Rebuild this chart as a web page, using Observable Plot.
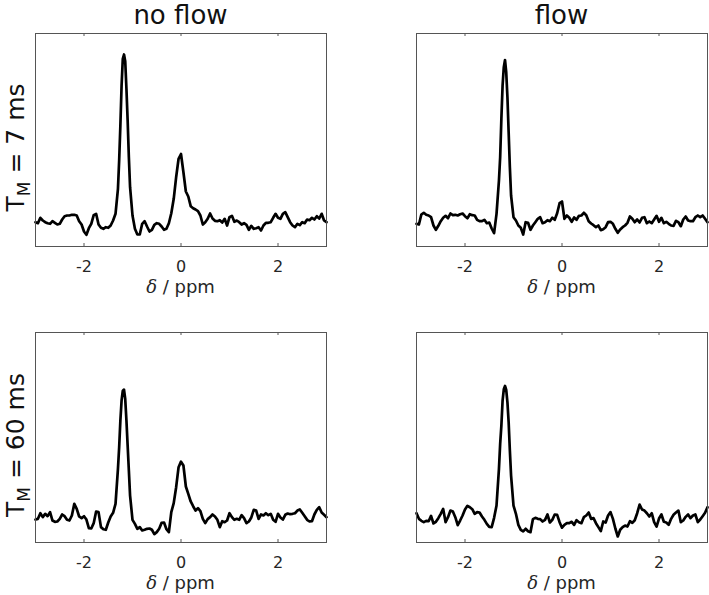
<!DOCTYPE html>
<html>
<head>
<meta charset="utf-8">
<script src="https://cdn.jsdelivr.net/npm/d3@7"></script>
<script src="https://cdn.jsdelivr.net/npm/@observablehq/plot@0.6"></script>
<style>
  body { margin: 0; background: #fff; }
  #chart { position: relative; width: 709px; height: 595px; font-family: "DejaVu Sans", sans-serif; }
  #chart svg { position: absolute; }
</style>
</head>
<body>
<div id="chart"></div>
<script>
// chemical shift axis (ppm), shared by all four spectra
const ppm = [
  -3, -2.95, -2.9, -2.85, -2.8, -2.75, -2.7, -2.65, -2.6, -2.55,
  -2.5, -2.45, -2.4, -2.35, -2.3, -2.25, -2.2, -2.15, -2.1, -2.05,
  -2, -1.95, -1.9, -1.85, -1.8, -1.75, -1.7, -1.65, -1.6, -1.55,
  -1.5, -1.45, -1.4, -1.35, -1.3, -1.275, -1.25, -1.225, -1.2, -1.175,
  -1.15, -1.125, -1.1, -1.075, -1.05, -1, -0.95, -0.9, -0.85, -0.8,
  -0.75, -0.7, -0.65, -0.6, -0.55, -0.5, -0.45, -0.4, -0.35, -0.3,
  -0.25, -0.2, -0.15, -0.1, -0.05, 0, 0.05, 0.1, 0.15, 0.2,
  0.25, 0.3, 0.35, 0.4, 0.45, 0.5, 0.55, 0.6, 0.65, 0.7,
  0.75, 0.8, 0.85, 0.9, 0.95, 1, 1.05, 1.1, 1.15, 1.2,
  1.25, 1.3, 1.35, 1.4, 1.45, 1.5, 1.55, 1.6, 1.65, 1.7,
  1.75, 1.8, 1.85, 1.9, 1.95, 2, 2.05, 2.1, 2.15, 2.2,
  2.25, 2.3, 2.35, 2.4, 2.45, 2.5, 2.55, 2.6, 2.65, 2.7,
  2.75, 2.8, 2.85, 2.9, 2.95, 3
];

// intensities (arbitrary units)
const noFlow7 = [
  0.003, -0.007, 0.047, 0.02, 0.003, -0.007, -0.013, 0.013, -0.003, -0.02,
  -0.013, 0.03, 0.063, 0.07, 0.07, 0.077, 0.077, 0.07, 0.013, -0.02,
  -0.09, -0.123, -0.057, -0.013, 0.073, 0.087, -0.02, -0.053, -0.063, -0.047,
  -0.053, -0.03, 0.02, 0.087,
  0.337, 0.62, 0.97, 1.37, 1.637, 1.68, 1.613, 1.337, 1.02, 0.653, 0.353,
  0.07, -0.063, -0.12, -0.12, -0.013, 0.013, -0.04, -0.09, -0.073, -0.023,
  -0.007, -0.013, -0.04, -0.073, -0.063, -0.007, 0.093, 0.237, 0.453, 0.637,
  0.685,
  0.503, 0.31, 0.26, 0.163, 0.143, 0.13, 0.113, 0.07, -0.02,
  0.003, 0.037, 0.09, 0.04, 0.017, 0.013, 0.023, 0, 0.037, -0.03,
  0.053, 0.067, 0.007, 0.02, 0.003, -0.02, -0.007, -0.023, -0.073, -0.033,
  -0.063, -0.057, -0.047, -0.08, -0.03, -0.003, -0.003, 0.003, 0.047, 0.087,
  0.047, 0.037, 0.087, 0.103, 0.053, 0.003, -0.03, -0.047, -0.013, -0.027,
  0.003, -0.007, 0.03, 0.023, 0.047, 0.03, 0.063, 0.04, 0.087, 0.02, 0.003
];

const flow7 = [
  -0.013, -0.02, 0.08, 0.097, 0.077, 0.07, 0.053, -0.03, -0.073, -0.033,
  0.013, 0.047, 0.067, 0.043, 0.09, 0.073, 0.077, 0.07, 0.083, 0.09,
  0.063, 0.043, 0.083, 0.073, 0.07, 0.027, 0.013, 0.013, 0.027, -0.007,
  0, -0.06, -0.107, 0.087,
  0.42, 0.653, 1.037, 1.37, 1.553, 1.625, 1.503, 1.253, 0.903, 0.553, 0.27,
  0.053, 0.02, -0.03, -0.053, -0.12, 0.003, -0.003, -0.073, -0.03, 0.003,
  0.037, 0.053, -0.007, 0.003, 0.023, 0.013, 0.047, 0.027, 0.093, 0.193,
  0.21,
  0.037, 0.07, 0.047, 0.007, 0.05, 0.027, 0.067, 0.07, 0.097,
  0.073, 0.013, -0.01, -0.027, -0.047, -0.03, -0.077, -0.067, -0.047, 0.003,
  0.007, -0.013, -0.063, -0.103, -0.07, -0.047, -0.03, -0.003, 0.06, 0.037,
  0.003, 0.03, 0, 0.047, 0.053, -0.007, 0.01, -0.007, 0.03, 0.067,
  0.007, 0.047, -0.007, 0.007, -0.013, -0.03, -0.033, 0.017, 0.003, -0.037,
  0.03, 0.06, 0.02, 0.013, 0.013, 0.053, 0.07, 0.053, 0.07, 0.037, 0.003
];

const noFlow60 = [
  -0.007, 0, 0.057, 0.017, 0.051, 0.027, 0.068, -0.017, -0.03, -0.027,
  0, 0.044, 0.027, -0.01, -0.017, 0.034, 0.152, 0.101, 0.024, 0.007,
  0.027, -0.007, -0.095, -0.098, -0.044, 0.074, 0.068, -0.084, -0.105, -0.111,
  -0.037, 0.024, 0.061, 0.152,
  0.507, 0.726, 0.997, 1.2, 1.3, 1.311, 1.216, 0.997, 0.743, 0.49, 0.236,
  -0.01, -0.051, -0.101, -0.084, -0.118, -0.111, -0.101, -0.098, -0.111, -0.155,
  -0.135, -0.101, -0.041, -0.037, -0.105, -0.135, 0.068, 0.159, 0.321, 0.524,
  0.58,
  0.541, 0.328, 0.253, 0.176, 0.128, 0.084, 0.108, 0.078, 0,
  -0.044, -0.003, 0.017, 0.044, 0.024, -0.01, -0.084, -0.024, -0.034, -0.017,
  0.057, 0.017, -0.01, 0, -0.01, 0.037, 0.007, -0.044, -0.027, 0.014,
  0.091, 0.084, 0, 0.044, 0.034, 0.057, 0.037, 0.051, -0.01, -0.03,
  0.051, 0.014, -0.007, 0.041, 0.054, 0.047, 0.051, 0.057, 0.084, 0.095,
  0.061, 0.027, -0.01, -0.027, -0.024, 0.044, 0.091, 0.118, 0.064, 0.041, 0.017
];

const flow60 = [
  0.057, 0, -0.02, -0.034, -0.02, -0.024, 0.03, -0.047, -0.03, 0.007,
  0.051, 0.101, -0.034, 0.017, 0.084, 0.074, 0.017, -0.064, -0.017, 0.034,
  0.095, 0.132, 0.118, 0.098, 0.051, 0.068, 0.064, 0.024, -0.01, -0.051,
  -0.081, -0.084, 0.01, 0.135,
  0.507, 0.76, 0.946, 1.2, 1.314, 1.348, 1.307, 1.182, 0.98, 0.693, 0.439,
  0.135, 0.051, -0.061, -0.111, -0.128, -0.101, -0.125, -0.135, -0.003, 0.01,
  0, -0.003, -0.027, -0.01, 0.044, -0.037, -0.01, 0.044, 0.041, -0.034,
  -0.09,
  -0.061, -0.044, -0.044, -0.03, -0.061, -0.014, -0.034, -0.044, 0.017,
  0.034, 0.064, 0, 0.007, -0.044, -0.084, -0.125, -0.027, -0.037, 0.034,
  0.068, 0, -0.098, -0.179, -0.111, -0.084, -0.068, -0.078, -0.024, -0.041,
  -0.014, 0.057, 0.145, 0.095, 0.084, 0.057, 0.024, 0.057, -0.034, -0.078,
  0.003, 0.044, -0.03, -0.037, -0.061, 0, 0.041, 0.064, 0.084, -0.034,
  -0.017, 0.02, 0.044, 0.007, 0.034, 0.044, -0.034, -0.007, 0.027, 0.061, 0.118
];

const xTicks = [-2, 0, 2];
const xDomain = [-3, 3];
const yDomain = [-0.24, 1.89];
const colTitles = ["no flow", "flow"];
const rowMixing = ["7 ms", "60 ms"];
const xLabelSymbol = "δ";
const xLabelUnit = " / ppm";

const panels = [
  { values: noFlow7, row: 0, col: 0 },
  { values: flow7, row: 0, col: 1 },
  { values: noFlow60, row: 1, col: 0 },
  { values: flow60, row: 1, col: 1 }
];

const colLeft = [0, 381];
const rowTop = [0, 299];
const rowHeight = [300, 296];
const rowMarginBottom = [54, 53];
const W = 328, mL = 35, mR = 2, mT = 33;
const frameColor = "#555";
const textColor = "#262626";

const chart = document.getElementById("chart");

for (const p of panels) {
  if (p.values.length !== ppm.length) console.error("length mismatch", p.row, p.col, p.values.length);
  const data = ppm.map((x, i) => ({ x, y: p.values[i] }));
  const H = rowHeight[p.row];
  const mB = rowMarginBottom[p.row];
  const innerH = H - mT - mB;
  const innerW = W - mL - mR;

  const svg = Plot.plot({
    width: W,
    height: H,
    marginLeft: mL,
    marginRight: mR,
    marginTop: mT,
    marginBottom: mB,
    style: { fontFamily: "DejaVu Sans", fontSize: "16px", color: textColor, background: "transparent" },
    x: { domain: xDomain },
    y: { domain: yDomain, axis: null },
    marks: [
      Plot.line(data, { x: "x", y: "y", stroke: "#000", strokeWidth: 2.7, strokeLinejoin: "round", strokeLinecap: "round" }),
      Plot.frame({ stroke: frameColor, strokeWidth: 1 }),
      Plot.tickX(xTicks, { stroke: frameColor, insetTop: innerH - 3 }),
      Plot.tickX(xTicks, { stroke: frameColor, insetBottom: innerH - 3 }),
      Plot.axisX(xTicks, { anchor: "bottom", tickSize: 0, tickPadding: 14, tickFormat: d => String(d), fontSize: 16, fill: textColor, label: null })
    ]
  });

  svg.style.left = colLeft[p.col] + "px";
  svg.style.top = rowTop[p.row] + "px";

  const s = d3.select(svg);
  const cx = mL + innerW / 2;

  if (p.row === 0) {
    s.append("text")
      .attr("x", cx).attr("y", 24)
      .attr("text-anchor", "middle")
      .attr("font-size", 26)
      .attr("fill", "#111")
      .text(colTitles[p.col]);
  }

  const xl = s.append("text")
    .attr("x", cx).attr("y", mT + innerH + 47)
    .attr("text-anchor", "middle")
    .attr("font-size", 18)
    .attr("fill", textColor);
  xl.append("tspan").attr("font-family", "DejaVu Serif").attr("font-style", "italic").text(xLabelSymbol);
  xl.append("tspan").text(xLabelUnit);

  if (p.col === 0) {
    const rl = s.append("text")
      .attr("transform", `translate(24, ${mT + innerH / 2 + 8}) rotate(-90)`)
      .attr("text-anchor", "middle")
      .attr("font-size", 25)
      .attr("fill", "#111");
    rl.append("tspan").text("T");
    rl.append("tspan").attr("font-size", 17).attr("dy", 6).text("M");
    rl.append("tspan").attr("dy", -6).text(" = " + rowMixing[p.row]);
  }

  chart.appendChild(svg);
}
</script>
</body>
</html>
